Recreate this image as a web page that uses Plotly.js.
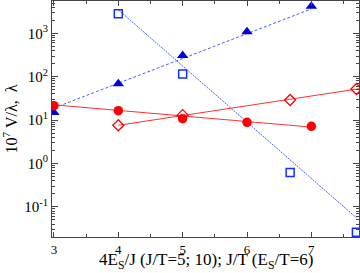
<!DOCTYPE html>
<html><head><meta charset="utf-8">
<script src="https://cdn.plot.ly/plotly-3.0.1.min.js"></script>
<style>html,body{margin:0;padding:0;background:#fff;}#chart{width:360px;height:273px;}</style>
</head><body><div id="chart"></div>
<script>
// Data
var triX = [3, 4, 5, 6, 7];
var triY = [15, 69, 310, 1090, 4200];
var triFitX = [3, 7];
var triFitY = [19, 3650];

var sqX = [4, 5, 6.67, 7.7];
var sqY = [2830, 116, 0.62, 0.026];
var sqFitX = [4, 7.7];
var sqFitY = [3500, 0.056];

var circX = [3, 4, 5, 6, 7];
var circY = [21.5, 16.5, 10.8, 8.9, 7.2];
var circFitX = [3, 7];
var circFitY = [22.5, 6.9];

var diaX = [4, 5, 6.67, 7.7];
var diaY = [7.6, 13, 29, 52];
var diaFitX = [4, 7.75];
var diaFitY = [7.6, 53];

var yTickVals = [0.1, 1, 10, 100, 1000];
var yTickText = ['10<sup>-1</sup>', '10<sup>0</sup>', '10<sup>1</sup>', '10<sup>2</sup>', '10<sup>3</sup>'];
var xTickVals = [3, 4, 5, 6, 7];
var xTitle = '4E<sub>S</sub>/J (J/T=5; 10); J/T (E<sub>S</sub>/T=6)';
var yTitle = '10<sup>7</sup> V/λ,  λ';

var serif = 'Liberation Serif, Times New Roman, serif';

var traces = [
  {x: triFitX, y: triFitY, mode: 'lines', line: {color: '#4a5cff', width: 1, dash: '3px,2px'}},
  {x: sqFitX, y: sqFitY, mode: 'lines', line: {color: '#4a5cff', width: 1, dash: '2px,1px'}},
  {x: circFitX, y: circFitY, mode: 'lines', line: {color: '#ff3030', width: 1}},
  {x: diaFitX, y: diaFitY, mode: 'lines', line: {color: '#ff3030', width: 1}},
  {x: triX, y: triY, mode: 'markers', marker: {symbol: 'triangle-up', size: 10, color: '#0000e0'}},
  {x: sqX, y: sqY, mode: 'markers', marker: {symbol: 'square-open', size: 8, color: '#1030ff', line: {width: 1.5}}},
  {x: circX, y: circY, mode: 'markers', marker: {symbol: 'circle', size: 9.5, color: '#ff0000'}},
  {x: diaX, y: diaY, mode: 'markers', marker: {symbol: 'diamond-open', size: 8.5, color: '#ff0000', line: {width: 1.3}}}
];

var layout = {
  width: 360, height: 273,
  margin: {l: 52, r: 1, t: 1, b: 36},
  showlegend: false,
  paper_bgcolor: '#fff', plot_bgcolor: '#fff',
  font: {family: serif, size: 15, color: '#000'},
  xaxis: {
    range: [2.97, 7.74], showgrid: false, zeroline: false,
    showline: true, linecolor: '#444', linewidth: 1, mirror: 'allticks',
    ticks: 'inside', ticklen: 5, tickcolor: '#444', tickwidth: 1,
    tickmode: 'array', tickvals: xTickVals,
    minor: {dtick: 0.5, tick0: 3, ticks: 'inside', ticklen: 3, tickcolor: '#444'},
    tickfont: {family: serif, size: 13}
  },
  yaxis: {
    type: 'log', range: [-1.694, 3.745], showgrid: false, zeroline: false,
    showline: true, linecolor: '#444', linewidth: 1, mirror: 'allticks',
    ticks: 'inside', ticklen: 6, tickcolor: '#444', tickwidth: 1,
    tickmode: 'array', tickvals: yTickVals, ticktext: yTickText,
    minor: {dtick: 'D1', ticks: 'inside', ticklen: 3, tickcolor: '#444'},
    tickfont: {family: serif, size: 15},
    title: {text: yTitle, font: {family: serif, size: 16}, standoff: 9}
  },
  annotations: [
    {text: xTitle, xref: 'paper', yref: 'paper', x: 0.5, y: -0.1, xanchor: 'center', yanchor: 'middle',
     showarrow: false, font: {family: serif, size: 17}}
  ]
};

Plotly.newPlot('chart', traces, layout, {staticPlot: true, displayModeBar: false});
</script>
</body></html>
